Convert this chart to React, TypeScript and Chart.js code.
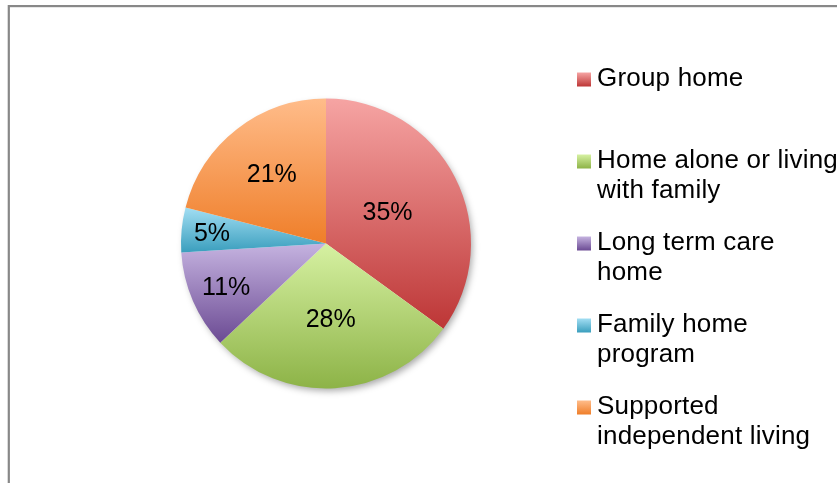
import React, { useEffect, useRef } from "react";
import { Chart, registerables } from "chart.js";

Chart.register(...registerables);

const categories = [
  "Group home",
  "Home alone or living with family",
  "Long term care home",
  "Family home program",
  "Supported independent living",
];
const shares = [35, 28, 11, 5, 21];
const valueLabels = ["35%", "28%", "11%", "5%", "21%"];

const topColors = ["#F6A4A3", "#D6F1A2", "#C5B3E0", "#A2DEF3", "#FFBC8A"];
const bottomColors = ["#BD3636", "#8DB347", "#6B4A93", "#3A9EBD", "#EF7E29"];
const labelRadius = [0.476, 0.52, 0.75, 0.79, 0.61];

const FONT = '"Liberation Sans", Arial, sans-serif';

function sliceGradient(chart: any, i: number) {
  const area = chart.chartArea;
  if (!area) return topColors[i];
  const cx = (area.left + area.right) / 2;
  const cy = (area.top + area.bottom) / 2;
  const r = Math.min(area.right - area.left, area.bottom - area.top) / 2;
  const total = shares.reduce((a, b) => a + b, 0);
  let before = 0;
  for (let k = 0; k < i; k++) before += shares[k];
  const start = -Math.PI / 2 + (before / total) * Math.PI * 2;
  const end = start + (shares[i] / total) * Math.PI * 2;
  let minY = cy;
  let maxY = cy;
  for (let k = 0; k <= 90; k++) {
    const a = start + ((end - start) * k) / 90;
    const y = cy + r * Math.sin(a);
    if (y < minY) minY = y;
    if (y > maxY) maxY = y;
  }
  const g = chart.ctx.createLinearGradient(0, minY, 0, maxY);
  g.addColorStop(0, topColors[i]);
  g.addColorStop(1, bottomColors[i]);
  return g;
}

const framePlugin = {
  id: "frame",
  beforeDraw(chart: any) {
    const ctx = chart.ctx;
    ctx.save();
    ctx.fillStyle = "#ffffff";
    ctx.fillRect(0, 0, chart.width, chart.height);
    ctx.strokeStyle = "#888888";
    ctx.lineWidth = 2.2;
    ctx.strokeRect(8.8, 6.1, chart.width + 20, chart.height + 20);
    ctx.restore();
  },
};

const shadowPlugin = {
  id: "pieShadow",
  beforeDatasetsDraw(chart: any) {
    const arc = chart.getDatasetMeta(0).data[0];
    if (!arc) return;
    const ctx = chart.ctx;
    ctx.save();
    ctx.shadowColor = "rgba(0,0,0,0.35)";
    ctx.shadowBlur = 7;
    ctx.shadowOffsetX = 2.5;
    ctx.shadowOffsetY = 3.5;
    ctx.fillStyle = "#ffffff";
    ctx.beginPath();
    ctx.arc(arc.x, arc.y, arc.outerRadius - 1, 0, Math.PI * 2);
    ctx.fill();
    ctx.restore();
  },
};

const labelPlugin = {
  id: "sliceLabels",
  afterDatasetsDraw(chart: any) {
    const ctx = chart.ctx;
    const arcs = chart.getDatasetMeta(0).data;
    ctx.save();
    ctx.fillStyle = "#000000";
    ctx.font = `25px ${FONT}`;
    ctx.textAlign = "center";
    ctx.textBaseline = "middle";
    arcs.forEach((arc: any, i: number) => {
      const mid = (arc.startAngle + arc.endAngle) / 2;
      const d = arc.outerRadius * labelRadius[i];
      ctx.fillText(valueLabels[i], arc.x + Math.cos(mid) * d, arc.y + Math.sin(mid) * d + 1);
    });
    ctx.restore();
  },
};

function wrap(ctx: any, text: string, maxW: number) {
  const words = text.split(" ");
  const lines: string[] = [];
  let cur = "";
  for (const w of words) {
    const test = cur ? cur + " " + w : w;
    if (cur && ctx.measureText(test).width > maxW) {
      lines.push(cur);
      cur = w;
    } else cur = test;
  }
  if (cur) lines.push(cur);
  return lines;
}

const legendPlugin = {
  id: "sideLegend",
  afterDraw(chart: any) {
    const ctx = chart.ctx;
    ctx.save();
    ctx.font = `26px ${FONT}`;
    (ctx as any).letterSpacing = "0.2px";
    ctx.textAlign = "left";
    ctx.textBaseline = "alphabetic";
    const textX = 597;
    const boxX = 577;
    const box = 14;
    categories.forEach((cat, i) => {
      const base = 86 + i * 82;
      const g = ctx.createLinearGradient(0, base - 13.5, 0, base + 0.5);
      g.addColorStop(0, topColors[i]);
      g.addColorStop(1, bottomColors[i]);
      ctx.fillStyle = g;
      ctx.fillRect(boxX, base - 13.5, box, box);
      ctx.fillStyle = "#000000";
      const lines = wrap(ctx, cat, 245);
      lines.forEach((ln, j) => ctx.fillText(ln, textX, base + j * 29.5));
    });
    ctx.restore();
  },
};

export default function App() {
  const ref = useRef<HTMLCanvasElement | null>(null);
  useEffect(() => {
    if (!ref.current) return;
    const chart = new Chart(ref.current, {
      type: "pie",
      data: {
        labels: categories,
        datasets: [
          {
            data: shares,
            backgroundColor: (c: any) => sliceGradient(c.chart, c.dataIndex),
            borderWidth: 0,
            hoverBorderWidth: 0,
            hoverOffset: 0,
            offset: 0,
          },
        ],
      },
      options: {
        responsive: false,
        animation: false,
        events: [],
        layout: { padding: { left: 181, top: 98.5, right: 366, bottom: 94.5 } },
        plugins: {
          legend: { display: false },
          tooltip: { enabled: false },
          title: { display: false },
        },
      },
      plugins: [framePlugin, shadowPlugin, labelPlugin, legendPlugin],
    });
    return () => chart.destroy();
  }, []);
  return (
    <div style={{ position: "fixed", left: 0, top: 0, width: 837, height: 483 }}>
      <canvas ref={ref} width={837} height={483} style={{ display: "block" }} />
    </div>
  );
}
